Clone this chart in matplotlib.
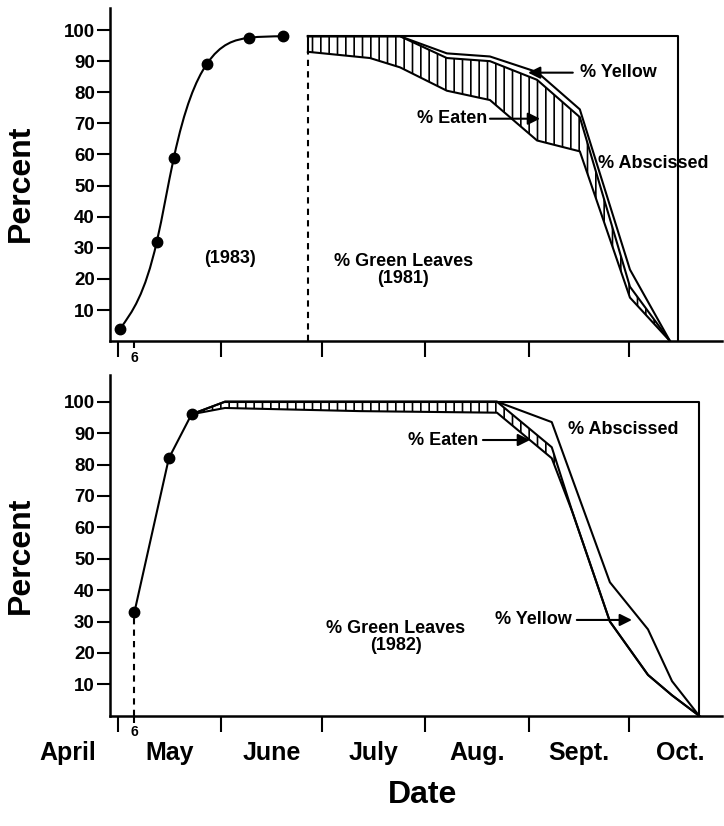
import numpy as np
import matplotlib
matplotlib.use("Agg")
import matplotlib.pyplot as plt
from matplotlib.path import Path
from matplotlib.patches import PathPatch

plt.rcParams['font.family'] = ['Liberation Sans', 'DejaVu Sans']
plt.rcParams['font.weight'] = 'bold'
plt.rcParams['hatch.linewidth'] = 1.2

# x values are day of year
month_starts = [121, 152, 182, 213, 244, 274]
month_names = ['April', 'May', 'June', 'July', 'Aug.', 'Sept.', 'Oct.']
month_bounds = [91, 121, 152, 182, 213, 244, 274, 305]
may6 = 126

# top panel: 1983 leaf-out and 1981 leaf fate
growth83_doy = [121.7, 132.7, 137.8, 147.6, 160.3, 170.4]
growth83_pct = [4, 32, 59, 89, 97.5, 98]

dates81 = [177.9, 196.5, 205.5, 219.5, 232.4, 246.5, 259.3, 274.3, 286.3]
green81 = [93, 91, 88, 80.5, 77.5, 64.5, 61, 14, 0]
eaten81 = [5, 7, 10, 10.5, 12.5, 19.5, 11, 3.5, 0]
yellow81 = [0, 0, 0, 1.5, 1.5, 2.5, 2.5, 5.5, 0]
ceiling81 = 98
box_end81 = 288.7

# bottom panel: 1982
growth82_doy = [126, 136.3, 143.1]
growth82_pct = [33, 82, 96]

dates82 = [143.1, 153.1, 193.5, 234.5, 250.9, 257.2, 268.3, 279.7, 286.9, 295.0]
green82 = [96, 98, 97, 96.5, 82, 64.5, 30, 13, 6.5, 0]
eaten82 = [0, 2, 3, 3.5, 3.5, 0, 0, 0, 0, 0]
yellow82 = [0, 0, 0, 0, 8, 10.5, 12.5, 14.5, 4.5, 0]
ceiling82 = 100
box_end82 = 295.0


def smooth_path(xs, ys):
    # natural cubic spline through the points, handed to matplotlib as bezier pieces
    x = np.asarray(xs, float)
    y = np.asarray(ys, float)
    n = len(x)
    h = np.diff(x)
    A = np.zeros((n, n))
    r = np.zeros(n)
    A[0, 0] = A[-1, -1] = 1
    for i in range(1, n - 1):
        A[i, i - 1] = h[i - 1]
        A[i, i] = 2 * (h[i - 1] + h[i])
        A[i, i + 1] = h[i]
        r[i] = 6 * ((y[i + 1] - y[i]) / h[i] - (y[i] - y[i - 1]) / h[i - 1])
    M = np.linalg.solve(A, r)
    verts = [(x[0], y[0])]
    codes = [Path.MOVETO]
    for i in range(n - 1):
        s = (y[i + 1] - y[i]) / h[i]
        m0 = s - h[i] * (2 * M[i] + M[i + 1]) / 6
        m1 = s + h[i] * (M[i] + 2 * M[i + 1]) / 6
        verts += [(x[i] + h[i] / 3, y[i] + m0 * h[i] / 3),
                  (x[i + 1] - h[i] / 3, y[i + 1] - m1 * h[i] / 3),
                  (x[i + 1], y[i + 1])]
        codes += [Path.CURVE4] * 3
    return Path(verts, codes)


def style_axes(ax, ytop):
    ax.set_xlim(118.7, 301.8)
    ax.set_ylim(0, ytop)
    ax.spines['top'].set_visible(False)
    ax.spines['right'].set_visible(False)
    ax.spines['left'].set_linewidth(1.8)
    ax.spines['bottom'].set_linewidth(1.8)
    ax.set_yticks(range(10, 101, 10))
    ax.tick_params(axis='y', direction='out', length=9.5, width=1.5,
                   labelsize=13.5, pad=1.5)
    ax.set_xticks(month_starts)
    ax.set_xticklabels([''] * len(month_starts))
    ax.tick_params(axis='x', which='major', direction='out', length=11.5, width=1.5)
    ax.set_xticks([may6], labels=['6'], minor=True)
    ax.tick_params(axis='x', which='minor', direction='out', length=5, width=1.5,
                   labelsize=10, pad=2)


def fate_bands(ax, dates, green, eaten, yellow, ceiling, box_end, box_start):
    d = np.array(dates)
    g = np.array(green)
    e_top = g + np.array(eaten)
    y_top = e_top + np.array(yellow)
    ax.fill_between(d, g, e_top, facecolor='white', edgecolor='black',
                    hatch='||', linewidth=0)
    for line in (g, e_top, y_top):
        ax.plot(d, line, color='black', lw=1.5)
    ax.plot([box_start, box_end, box_end], [ceiling, ceiling, 0], color='black', lw=1.5)


def arrow(ax, tail, tip):
    ax.annotate('', xy=tip, xytext=tail,
                arrowprops=dict(arrowstyle='-|>', lw=1.5, color='black',
                                mutation_scale=18, shrinkA=0, shrinkB=0))


fig = plt.figure(figsize=(7.24, 8.26), dpi=100)
ax1 = fig.add_axes([0.152, 0.587, 0.845, 0.403])
ax2 = fig.add_axes([0.152, 0.1335, 0.845, 0.4125])
style_axes(ax1, 107)
style_axes(ax2, 108.5)

# top panel
ax1.add_patch(PathPatch(smooth_path(growth83_doy, growth83_pct), fill=False,
                        edgecolor='black', lw=1.5))
ax1.plot(growth83_doy, growth83_pct, 'o', color='black', ms=7.5)
ax1.plot([dates81[0], dates81[0]], [0, green81[0]], color='black', lw=1.5,
         ls=(0, (3, 2.5)))
ax1.plot([dates81[0], dates81[0]], [green81[0], ceiling81], color='black', lw=1.5)
fate_bands(ax1, dates81, green81, eaten81, yellow81, ceiling81, box_end81, dates81[0])

tfs = 13
ax1.text(259.3, 86.3, '% Yellow', fontsize=tfs, ha='left', va='center')
arrow(ax1, (257.2, 86.3), (243.8, 86.3))
ax1.text(231.5, 71.5, '% Eaten', fontsize=tfs, ha='right', va='center')
arrow(ax1, (232.4, 71.5), (247.4, 71.5))
ax1.text(264.8, 57.1, '% Abscissed', fontsize=tfs, ha='left', va='center')
ax1.text(154.6, 26.6, '(1983)', fontsize=tfs, ha='center', va='center')
ax1.text(206.4, 22.9, '% Green Leaves\n(1981)', fontsize=tfs, ha='center',
         va='center', linespacing=1.0)

# bottom panel
ax2.plot(growth82_doy, growth82_pct, '-o', color='black', lw=1.5, ms=7.5)
ax2.plot([growth82_doy[0], growth82_doy[0]], [0, growth82_pct[0]], color='black',
         lw=1.5, ls=(0, (3, 2.5)))
fate_bands(ax2, dates82, green82, eaten82, yellow82, ceiling82, box_end82, dates82[1])

ax2.text(255.7, 91.0, '% Abscissed', fontsize=tfs, ha='left', va='center')
ax2.text(228.8, 87.8, '% Eaten', fontsize=tfs, ha='right', va='center')
arrow(ax2, (230.3, 87.8), (244.4, 87.8))
ax2.text(233.9, 30.5, '% Yellow', fontsize=tfs, ha='left', va='center')
arrow(ax2, (258.4, 30.5), (274.9, 30.5))
ax2.text(204.3, 25.2, '% Green Leaves\n(1982)', fontsize=tfs, ha='center',
         va='center', linespacing=1.0)

for name, a, b in zip(month_names, month_bounds[:-1], month_bounds[1:]):
    ax2.annotate(name, xy=((a + b) / 2, 0), xycoords=('data', 'axes fraction'),
                 xytext=(0, -27), textcoords='offset points', ha='center',
                 va='center', fontsize=18, annotation_clip=False)

fig.text(21 / 724, 1 - 183 / 826, 'Percent', rotation=90, fontsize=23,
         ha='center', va='center')
fig.text(21 / 724, 1 - 555 / 826, 'Percent', rotation=90, fontsize=23,
         ha='center', va='center')
fig.text(423 / 724, 1 - 795 / 826, 'Date', fontsize=23, ha='center', va='center')

fig.savefig('out.png', dpi=100)
